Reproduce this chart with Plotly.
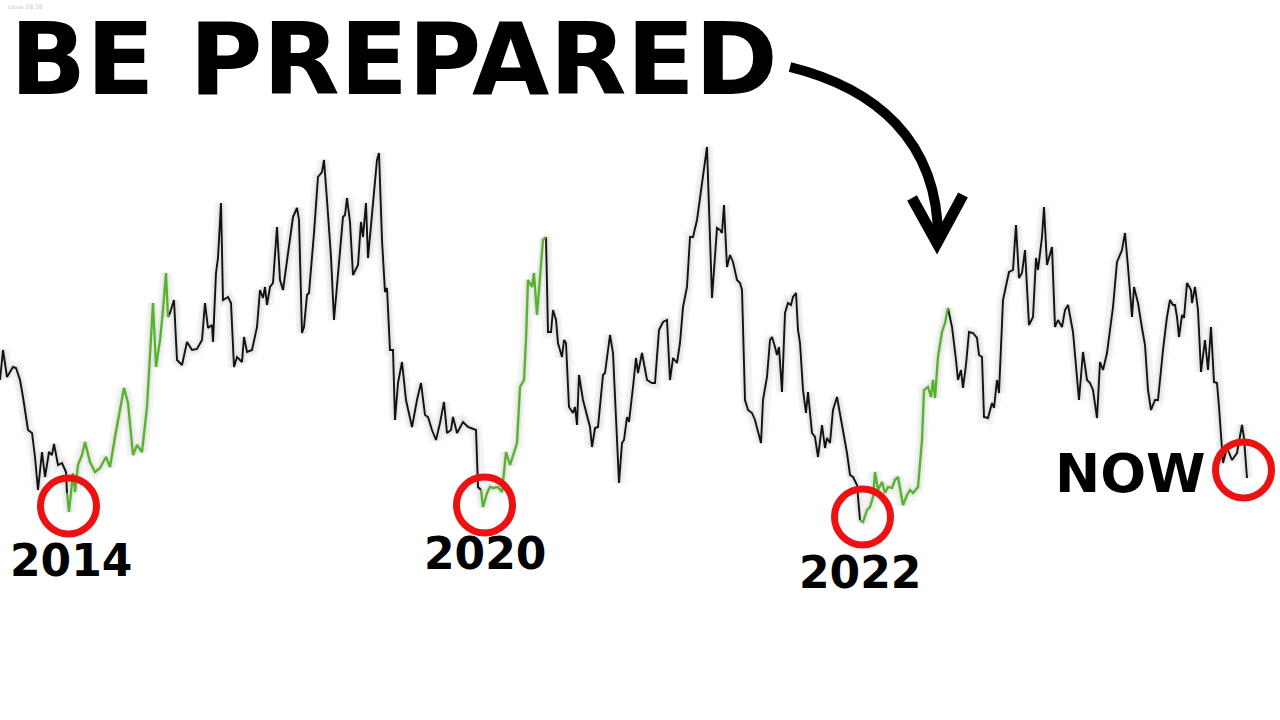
import plotly.graph_objects as go

# ---- data (x = week index, price = level) ----
weeks = [0, 3, 7, 13, 16, 20, 23, 28, 32, 35, 38, 42, 45, 49, 52, 54, 58, 62, 66, 67,
         69, 73, 75, 78, 82, 85, 90, 95, 100, 106, 110, 115, 124, 128, 133, 137, 142, 147, 153, 156,
         160, 163, 166, 168, 170, 174, 177, 182, 187, 192, 197, 202, 205, 208, 212, 213, 216, 218, 221, 223,
         228, 231, 234, 237, 242, 244, 247, 252, 257, 260, 263, 265, 267, 270, 273, 277, 280, 283, 288, 293,
         297, 299, 302, 304, 307, 309, 314, 318, 322, 324, 327, 331, 334, 338, 343, 345, 347, 350, 353, 358,
         361, 363, 366, 368, 373, 377, 379, 382, 385, 387, 390, 393, 395, 398, 402, 406, 412, 417, 421, 425,
         428, 432, 436, 440, 444, 447, 451, 453, 457, 463, 468, 476, 478, 481, 483, 487, 490, 493, 498, 502,
         506, 510, 517, 520, 524, 526, 528, 532, 534, 537, 541, 543, 546, 548, 551, 553, 556, 558, 562, 564,
         566, 569, 573, 575, 577, 579, 583, 587, 590, 592, 595, 598, 603, 605, 610, 613, 619, 622, 624, 627,
         629, 633, 636, 638, 642, 647, 652, 655, 659, 663, 667, 670, 673, 677, 680, 683, 687, 690, 693, 697,
         707, 712, 717, 720, 722, 724, 727, 730, 733, 737, 740, 742, 745, 748, 752, 755, 758, 761, 763, 767,
         770, 772, 775, 777, 779, 782, 785, 788, 791, 793, 796, 798, 800, 803, 806, 808, 812, 815, 818, 822,
         825, 827, 830, 833, 837, 840, 843, 847, 850, 853, 857, 860, 863, 867, 870, 873, 875, 878, 882, 885,
         888, 892, 895, 898, 900, 903, 907, 910, 913, 918, 922, 924, 928, 931, 933, 935, 938, 942, 945, 948,
         952, 956, 958, 961, 963, 966, 969, 973, 977, 979, 982, 984, 988, 992, 994, 997, 999, 1003, 1007, 1009,
         1013, 1016, 1019, 1022, 1025, 1029, 1033, 1036, 1038, 1042, 1044, 1047, 1052, 1055, 1058, 1062, 1065, 1068, 1073, 1077,
         1079, 1083, 1087, 1090, 1093, 1097, 1100, 1103, 1107, 1113, 1117, 1122, 1125, 1128, 1132, 1134, 1138, 1142, 1145, 1148,
         1151, 1155, 1158, 1163, 1167, 1170, 1173, 1175, 1177, 1179, 1182, 1184, 1187, 1191, 1192, 1195, 1198, 1201, 1205, 1208,
         1211, 1214, 1217, 1219, 1223, 1227, 1232, 1237, 1242, 1244, 1247]

price = [220, 250, 223, 233, 232, 220, 203, 170, 167, 143, 110, 148, 123, 148, 145, 156, 135, 137, 128, 107,
         88, 127, 108, 135, 145, 158, 138, 128, 132, 143, 133, 163, 212, 197, 145, 155, 148, 193, 297, 233,
         260, 290, 327, 283, 287, 300, 240, 235, 258, 250, 251, 260, 297, 272, 275, 258, 327, 342, 397, 300,
         303, 297, 233, 243, 238, 263, 248, 250, 273, 310, 302, 313, 295, 313, 317, 373, 320, 310, 347, 383,
         392, 380, 267, 273, 305, 307, 367, 423, 428, 440, 400, 343, 280, 327, 383, 385, 402, 378, 325, 335,
         378, 363, 397, 342, 393, 440, 447, 360, 308, 312, 250, 250, 180, 217, 238, 200, 173, 200, 217, 185,
         183, 170, 160, 177, 198, 167, 170, 183, 167, 178, 173, 170, 113, 110, 93, 107, 113, 112, 113, 108,
         148, 135, 157, 213, 220, 260, 320, 313, 327, 285, 337, 360, 363, 268, 268, 290, 280, 257, 243, 260,
         257, 193, 187, 193, 175, 225, 200, 183, 173, 153, 172, 173, 225, 227, 265, 247, 117, 157, 160, 183,
         178, 213, 242, 227, 247, 220, 217, 217, 270, 278, 280, 220, 242, 237, 257, 293, 313, 363, 363, 380,
         453, 302, 372, 370, 367, 395, 333, 345, 338, 320, 317, 310, 200, 190, 187, 180, 167, 157, 200, 223,
         260, 263, 253, 245, 253, 208, 287, 297, 295, 303, 307, 270, 257, 210, 187, 208, 167, 163, 143, 175,
         152, 162, 157, 190, 203, 187, 170, 147, 125, 123, 115, 80, 78, 90, 93, 103, 128, 110, 118, 107,
         113, 112, 120, 123, 110, 95, 105, 110, 107, 113, 160, 210, 213, 203, 220, 202, 243, 268, 277, 292,
         273, 240, 220, 230, 212, 235, 268, 267, 262, 245, 243, 183, 182, 197, 192, 220, 207, 300, 320, 328,
         330, 375, 322, 327, 350, 275, 283, 342, 330, 363, 393, 335, 353, 273, 280, 273, 290, 295, 268, 227,
         200, 248, 220, 217, 210, 182, 238, 230, 247, 293, 338, 350, 367, 333, 283, 313, 297, 272, 255, 210,
         190, 200, 200, 250, 283, 300, 295, 295, 283, 263, 285, 282, 317, 310, 297, 313, 290, 228, 260, 230,
         273, 218, 217, 193, 137, 152, 140, 147, 175, 162, 122]

# rally periods drawn in green (start week, end week)
rally_periods = [(67, 168), (481, 546), (860, 948)]

# circled lows with their labels
marked_weeks = [68.5, 484.5, 862.5, 1243.5]
marked_levels = [94, 95, 83, 130]
marked_labels = ["2014", "2020", "2022", "NOW"]

title_text = "BE PREPARED"
corner_text = "close 38.38"

# ---- build traces ----
def in_rally(w, strict):
    for a, b in rally_periods:
        if (a < w < b) if strict else (a <= w <= b):
            return True
    return False

black_y = [None if in_rally(w, True) else p for w, p in zip(weeks, price)]
green_y = [p if in_rally(w, False) else None for w, p in zip(weeks, price)]

fig = go.Figure()
# soft shadow under the line
fig.add_trace(go.Scatter(x=weeks, y=price, mode="lines",
                         line=dict(color="rgba(0,0,0,0.045)", width=12), hoverinfo="skip"))
fig.add_trace(go.Scatter(x=weeks, y=price, mode="lines",
                         line=dict(color="rgba(0,0,0,0.06)", width=6), hoverinfo="skip"))
fig.add_trace(go.Scatter(x=weeks, y=black_y, mode="lines", connectgaps=False,
                         line=dict(color="#111111", width=1.9)))
fig.add_trace(go.Scatter(x=weeks, y=green_y, mode="lines", connectgaps=False,
                         line=dict(color="#55b22a", width=2.3)))

W, H = 1280, 720

def px(x, y):
    return x / W, 1 - y / H

shapes = []
# red circles around the lows
R = 28
for cx, cy in zip(marked_weeks, marked_levels):
    shapes.append(dict(type="circle", xref="x", yref="y",
                       x0=cx - R, x1=cx + R, y0=cy - R, y1=cy + R,
                       line=dict(color="#ee1111", width=7)))

# curved arrow
def path_from(points, cmds):
    parts = []
    for c, pts in zip(cmds, points):
        coords = " ".join(f"{px(x, y)[0]:.5f},{px(x, y)[1]:.5f}" for x, y in pts)
        parts.append(f"{c} {coords}")
    return " ".join(parts)

shaft = path_from([[(790, 67)], [(875, 88), (938, 140), (938, 238)]], ["M", "C"])
head = path_from([[(912, 198)], [(937, 243)], [(963, 195)]], ["M", "L", "L"])
shapes.append(dict(type="path", xref="paper", yref="paper", path=shaft,
                   line=dict(color="#000000", width=10)))
shapes.append(dict(type="path", xref="paper", yref="paper", path=head,
                   line=dict(color="#000000", width=11)))

annotations = [
    dict(text=title_text, xref="paper", yref="paper", x=px(8, 0)[0], y=px(0, 59)[1],
         xanchor="left", yanchor="middle", showarrow=False,
         font=dict(family="DejaVu Sans", size=100, color="#000000", weight="bold")),
    dict(text=corner_text, xref="paper", yref="paper", x=px(6, 0)[0], y=px(0, 7)[1],
         xanchor="left", yanchor="middle", showarrow=False,
         font=dict(family="DejaVu Sans", size=6, color="#c8c8c8")),
]
label_pos = [(71, 560, 44), (485, 553, 44), (860, 572, 44), (1130, 473, 54)]
for lab, (lx, ly, fs) in zip(marked_labels, label_pos):
    annotations.append(dict(text=lab, xref="paper", yref="paper", x=px(lx, 0)[0], y=px(0, ly)[1],
                            xanchor="center", yanchor="middle", showarrow=False,
                            font=dict(family="DejaVu Sans", size=fs, color="#000000", weight="bold")))

fig.update_layout(
    width=W, height=H, autosize=False,
    margin=dict(l=0, r=0, t=0, b=0),
    paper_bgcolor="white", plot_bgcolor="white",
    showlegend=False,
    xaxis=dict(range=[0, 1280], visible=False, fixedrange=True),
    yaxis=dict(range=[-120, 600], visible=False, fixedrange=True),
    shapes=shapes, annotations=annotations,
)

fig.write_html("out.html", config={"displayModeBar": False},
               post_script="document.body.style.margin='0';document.body.style.overflow='hidden';")
